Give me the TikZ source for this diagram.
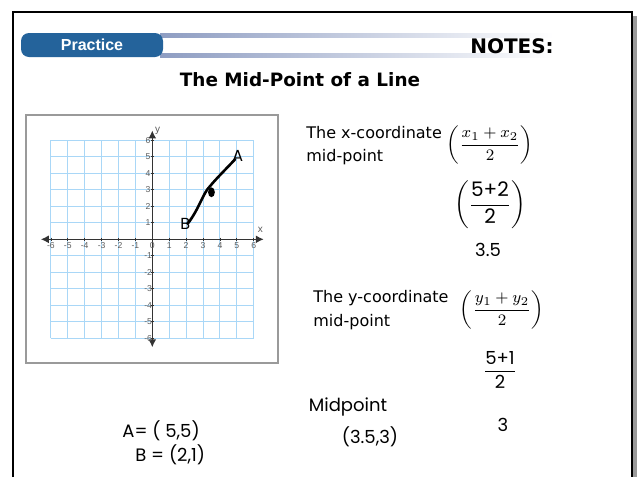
\documentclass[tikz,border=0pt]{standalone}
\usepackage{fontspec}
\usepackage{amsmath}
\setmainfont{DejaVu Sans}
\newfontfamily\bannerfont{Liberation Sans}
\newfontfamily\tickfont{Liberation Sans}
\newfontfamily\handfont{Poppins}
\usetikzlibrary{arrows.meta, positioning, calc}
\definecolor{pnblue}{HTML}{24639B}
\definecolor{pnbar}{HTML}{8E9DC2}
\definecolor{pngrid}{HTML}{A9D7F7}
\definecolor{pnaxis}{HTML}{333333}
\definecolor{pnframe}{HTML}{9A9A9A}

\begin{document}
\begin{tikzpicture}[
  x=0.5pt, y=-0.5pt,
  every node/.style={inner sep=0pt},
  printed/.style={font=\fontsize{8}{9.5}\selectfont, anchor=west},
  hand/.style={font=\handfont\fontsize{9}{10}\selectfont},
  ticklbl/.style={font=\tickfont\fontsize{4.3}{5}\selectfont, text=pnaxis!80},
]
\useasboundingbox (0,0) rectangle (637,477);
\fill[white] (0,0) rectangle (637,477);

% page frame
\fill[pnframe] (632,16) rectangle (637,477);
\draw[line width=1.4pt] (13,477) -- (13,12) -- (632,12) -- (632,477);

% banner
\shade[left color=pnbar, right color=white] (160,33) rectangle (553,37);
\shade[left color=pnbar, right color=white] (160,53) rectangle (553,57);
\fill[pnblue, rounded corners=4pt] (21,33) rectangle (163,57);
\node[font=\bannerfont\bfseries\fontsize{8}{9}\selectfont, text=white] (practice) at (92,44.5) {Practice};
\node[font=\bfseries\fontsize{10}{11}\selectfont] (notes) at (512,46) {NOTES:};
\node[font=\bfseries\fontsize{9.2}{10}\selectfont] (title) at (300,80) {The Mid-Point of a Line};

% graph box
\draw[pnframe, line width=0.6pt] (26,115) rectangle (278,363);
\begin{scope}[shift={(152.3,239.3)}, x=8.45pt, y=8.25pt]
  \draw[pngrid, line width=0.5pt, step=1] (-6,-6) grid (6,6);
  \draw[pnaxis, line width=0.8pt, {Latex[length=4pt,width=4pt]}-{Latex[length=4pt,width=4pt]}] (-6.6,0) -- (6.6,0);
  \draw[pnaxis, line width=0.8pt, {Latex[length=4pt,width=4pt]}-{Latex[length=4pt,width=4pt]}] (0,-6.55) -- (0,6.6);
  \foreach \k in {-6,...,6} {
    \draw[pnaxis, line width=0.4pt] (\k,0.1) -- (\k,-0.1);
    \node[ticklbl] at (\k,-0.4) {\k};
  }
  \foreach \k in {-6,...,-1,1,2,...,6} {
    \draw[pnaxis, line width=0.4pt] (0.1,\k) -- (-0.1,\k);
    \node[ticklbl] at (-0.25,\k) {\k};
  }
  \node[ticklbl, font=\tickfont\fontsize{5}{6}\selectfont] (xlbl) at (6.4,0.6) {x};
  \node[ticklbl, font=\tickfont\fontsize{5}{6}\selectfont] (ylbl) at (0.32,6.55) {y};
  % handwritten segment
  \coordinate (ptB) at (2.1,0.95);
  \coordinate (ptA) at (4.9,4.85);
  \draw[line width=1.3pt, line cap=round] (ptB) .. controls (2.8,1.9) and (3,2.8) .. (3.4,3.2) .. controls (3.8,3.7) and (4.4,4.3) .. (ptA);
  \fill (3.5,2.85) ellipse (0.2 and 0.3);
  \node[hand, font=\handfont\fontsize{8}{9}\selectfont] (labB) at (1.95,0.95) {B};
  \node[hand, font=\handfont\fontsize{8}{9}\selectfont] (labA) at (5.05,5.05) {A};
\end{scope}

% x-coordinate
\node[printed] (xtext) at (306,133) {The x-coordinate};
\node[printed] (xmid) at (306,157) {mid-point};
\node (xform) at (490,145) {\fontsize{8}{9}\selectfont$\left(\dfrac{x_1+x_2}{2}\right)$};
\node[hand, font=\handfont\fontsize{10}{11}\selectfont] (xsub) at (490,205) {$\left(\dfrac{\text{5+2}}{\text{2}}\right)$};
\node[hand] (xres) at (488,250) {3.5};

% y-coordinate
\node[printed] (ytext) at (313,298) {The y-coordinate};
\node[printed] (ymid) at (313,322) {mid-point};
\node (yform) at (502,310) {\fontsize{8}{9}\selectfont$\left(\dfrac{y_1+y_2}{2}\right)$};
\node[hand] (ysub) at (500,370) {$\dfrac{\text{5+1}}{\text{2}}$};
\node[hand] (yres) at (503,425) {3};

% handwritten notes
\node[hand] (midw) at (348,407) {Midpoint};
\node[hand] (midv) at (370,437) {(3.5,3)};
\node[hand, anchor=west] (ptAv) at (122,431) {A= ( 5,5)};
\node[hand, anchor=west] (ptBv) at (135,455) {B = (2,1)};
\end{tikzpicture}
\end{document}
